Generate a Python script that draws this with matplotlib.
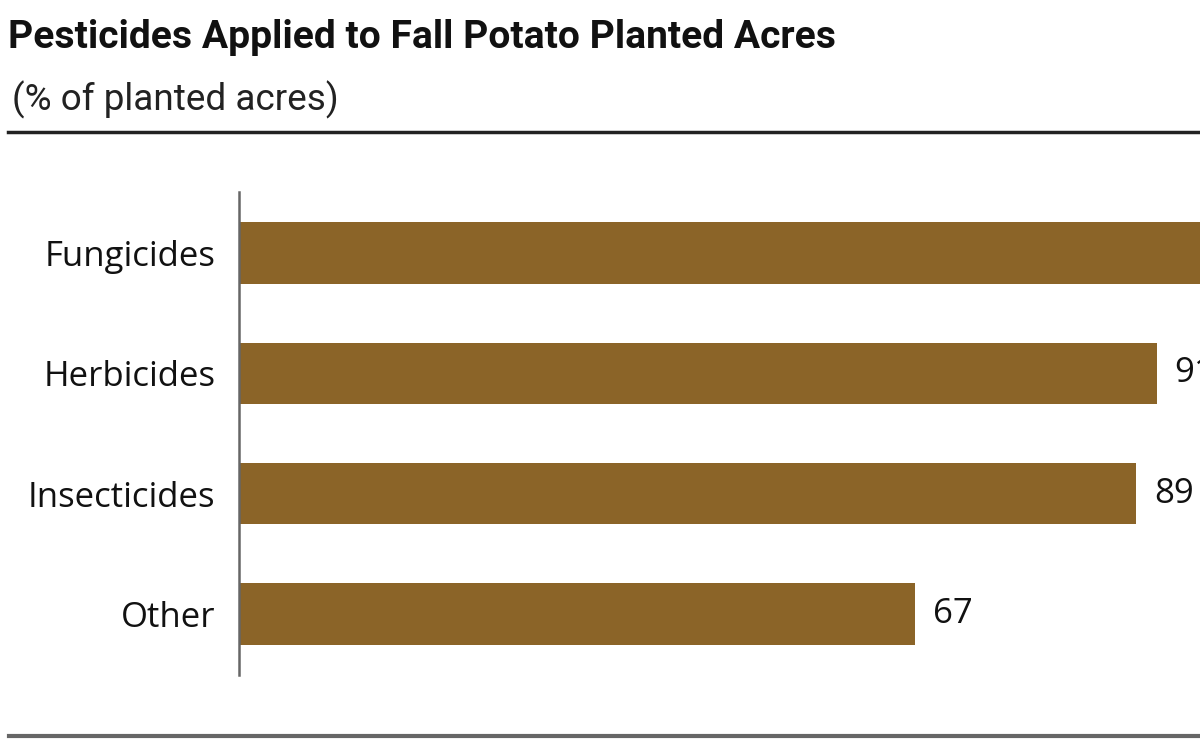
import matplotlib
matplotlib.use("Agg")
import matplotlib.pyplot as plt
from matplotlib.lines import Line2D

categories = ["Fungicides", "Herbicides", "Insecticides", "Other"]
values = [98, 91, 89, 67]
value_labels = ["98", "91", "89", "67"]

BAR_COLOR = "#8B6428"
TITLE_FONT = ["Roboto", "DejaVu Sans"]
LABEL_FONT = ["Open Sans", "DejaVu Sans"]

W, H = 1200, 743
fig = plt.figure(figsize=(W / 100, H / 100), dpi=100)
renderer = fig.canvas.get_renderer()


def fit_text(x, y, s, width_px, size, **kw):
    """place text, then rescale font so it spans width_px"""
    t = fig.text(x, y, s, fontsize=size, **kw)
    w = t.get_window_extent(renderer).width
    t.set_fontsize(size * width_px / w)
    return t


fit_text(8 / W, 1 - 48 / H, "Pesticides Applied to Fall Potato Planted Acres",
         827, 30, family=TITLE_FONT, fontweight="bold", fontstretch="condensed",
         color="#111111")
fit_text(12 / W, 1 - 110 / H, "(% of planted acres)", 326, 24,
         family=TITLE_FONT, fontstretch="condensed", color="#222222")

fig.add_artist(Line2D([8 / W, 1], [1 - 132 / H] * 2, color="#222222", lw=2.5))
fig.add_artist(Line2D([9 / W, 1], [1 - 736 / H] * 2, color="#666666", lw=3))

ax = fig.add_axes([239 / W, 1 - 675 / H, (W - 239) / W, 483 / H])
ypos = list(range(len(categories)))
ax.barh(ypos, values, height=0.51, color=BAR_COLOR)
ax.set_xlim(0, 95.3)
ax.set_ylim(3.507, -0.507)

for sp in ["top", "right", "bottom"]:
    ax.spines[sp].set_visible(False)
ax.spines["left"].set_color("#666666")
ax.spines["left"].set_linewidth(1.8)
ax.set_xticks([])
ax.set_yticks(ypos)
ax.set_yticklabels(categories, family=LABEL_FONT, fontsize=25, color="#111111")
ax.tick_params(axis="y", length=0, pad=17)

for y, v, lab in zip(ypos, values, value_labels):
    ax.annotate(lab, (v, y), xytext=(18, 0), textcoords="offset pixels",
                va="center", ha="left", family=LABEL_FONT, fontsize=25,
                color="#111111", annotation_clip=False)

fig.savefig("out.png", dpi=100)
